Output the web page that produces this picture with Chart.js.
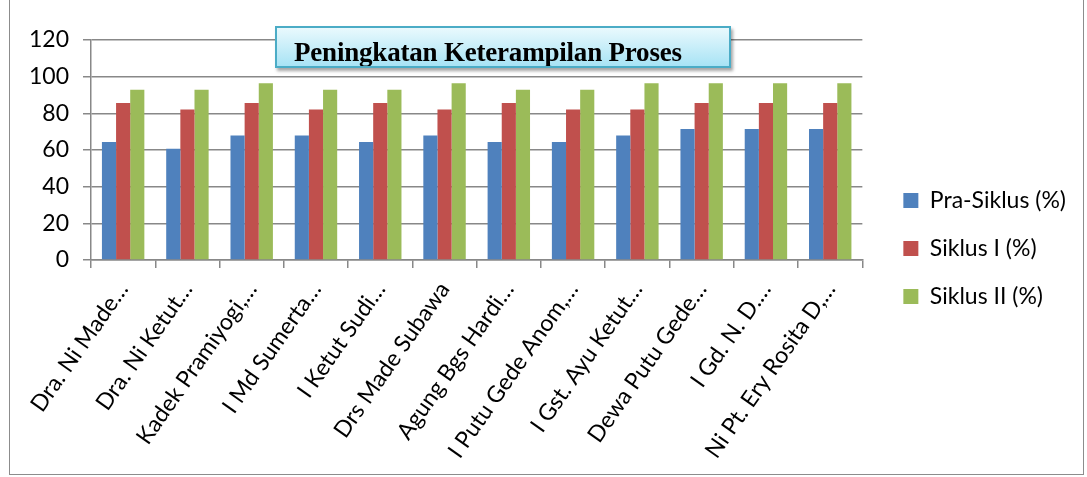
<!DOCTYPE html>
<html>
<head>
<meta charset="utf-8">
<script src="https://cdn.jsdelivr.net/npm/chart.js@4"></script>
<style>
  html, body { margin: 0; padding: 0; background: #fff; }
  #wrap { position: relative; width: 1087px; height: 477px; overflow: hidden; }
  #frame { position: absolute; left: 9px; top: -2px; width: 1075px; height: 477px; border: 1px solid #8c8c8c; box-sizing: border-box; }
  #chart { position: absolute; left: 0; top: 0; }
  #title {
    position: absolute; left: 275px; top: 26px; width: 456px; height: 42px; box-sizing: border-box;
    border: 2px solid #4bacc6; background: linear-gradient(#e9f9fd, #a8e3f5);
    box-shadow: 2px 3px 3px rgba(0,0,0,0.35); overflow: hidden;
    font: bold 27px "Liberation Serif", "Times New Roman", serif; color: #000;
    text-align: left; padding-left: 17px; line-height: 48px; letter-spacing: -0.2px;
  }
</style>
</head>
<body>
<div id="wrap">
  <div id="frame"></div>
  <canvas id="chart" width="1087" height="477"></canvas>
  <div id="title">Peningkatan Keterampilan Proses</div>
</div>
<script>
const categories = ['Dra. Ni Made…', 'Dra. Ni Ketut…', 'Kadek Pramiyogi,…', 'I Md Sumerta…', 'I Ketut Sudi…',
  'Drs Made Subawa', 'Agung Bgs Hardi…', 'I Putu Gede Anom,…', 'I Gst. Ayu Ketut…', 'Dewa Putu Gede…',
  'I Gd. N. D.…', 'Ni Pt. Ery Rosita D,…'];
const praSiklus = [64.3, 60.7, 67.9, 67.9, 64.3, 67.9, 64.3, 64.3, 67.9, 71.4, 71.4, 71.4];
const siklus1 = [85.7, 82.1, 85.7, 82.1, 85.7, 82.1, 85.7, 82.1, 82.1, 85.7, 85.7, 85.7];
const siklus2 = [92.9, 92.9, 96.4, 92.9, 92.9, 96.4, 92.9, 92.9, 96.4, 96.4, 96.4, 96.4];
const yTicks = [0, 20, 40, 60, 80, 100, 120];

const font = 'Lato, "Open Sans", sans-serif';
const gridColor = '#888888';

// nudge the legend away from the plot like the original
const legendShift = {
  id: 'legendShift',
  afterUpdate(chart) {
    const lg = chart.legend;
    if (!lg) return;
    lg.left += 16; lg.right += 16;
    lg.top -= 10; lg.bottom -= 10;
  }
};

new Chart(document.getElementById('chart').getContext('2d'), {
  type: 'bar',
  data: {
    labels: categories,
    datasets: [
      { label: 'Pra-Siklus (%)', data: praSiklus, backgroundColor: '#4f81bd' },
      { label: 'Siklus I (%)', data: siklus1, backgroundColor: '#c0504d' },
      { label: 'Siklus II (%)', data: siklus2, backgroundColor: '#9bbb59' }
    ]
  },
  plugins: [legendShift],
  options: {
    responsive: false,
    animation: false,
    layout: { padding: { left: 20, right: 27, top: 40, bottom: 0 } },
    datasets: { bar: { categoryPercentage: 0.66, barPercentage: 1.0 } },
    plugins: {
      title: { display: false },
      tooltip: { enabled: false },
      legend: {
        position: 'right',
        labels: {
          font: { family: font, size: 23 },
          color: '#000',
          boxWidth: 15, boxHeight: 15,
          padding: 25
        }
      }
    },
    scales: {
      x: {
        afterFit: s => { s.height = 217; },
        grid: { drawOnChartArea: false, drawTicks: true, tickLength: 8, color: gridColor, lineWidth: 1.5, offset: true },
        border: { color: gridColor, width: 1.5 },
        ticks: {
          maxRotation: 55, minRotation: 55, autoSkip: false,
          font: { family: font, size: 23 },
          color: '#000', padding: 9
        }
      },
      y: {
        min: 0, max: 120,
        afterFit: s => { s.width = 71; },
        afterBuildTicks: axis => { axis.ticks = yTicks.map(v => ({ value: v })); },
        grid: { color: gridColor, lineWidth: 1.5, tickLength: 8 },
        border: { color: gridColor, width: 1.5 },
        ticks: { font: { family: font, size: 23 }, color: '#000', padding: 14 }
      }
    }
  }
});
</script>
</body>
</html>
